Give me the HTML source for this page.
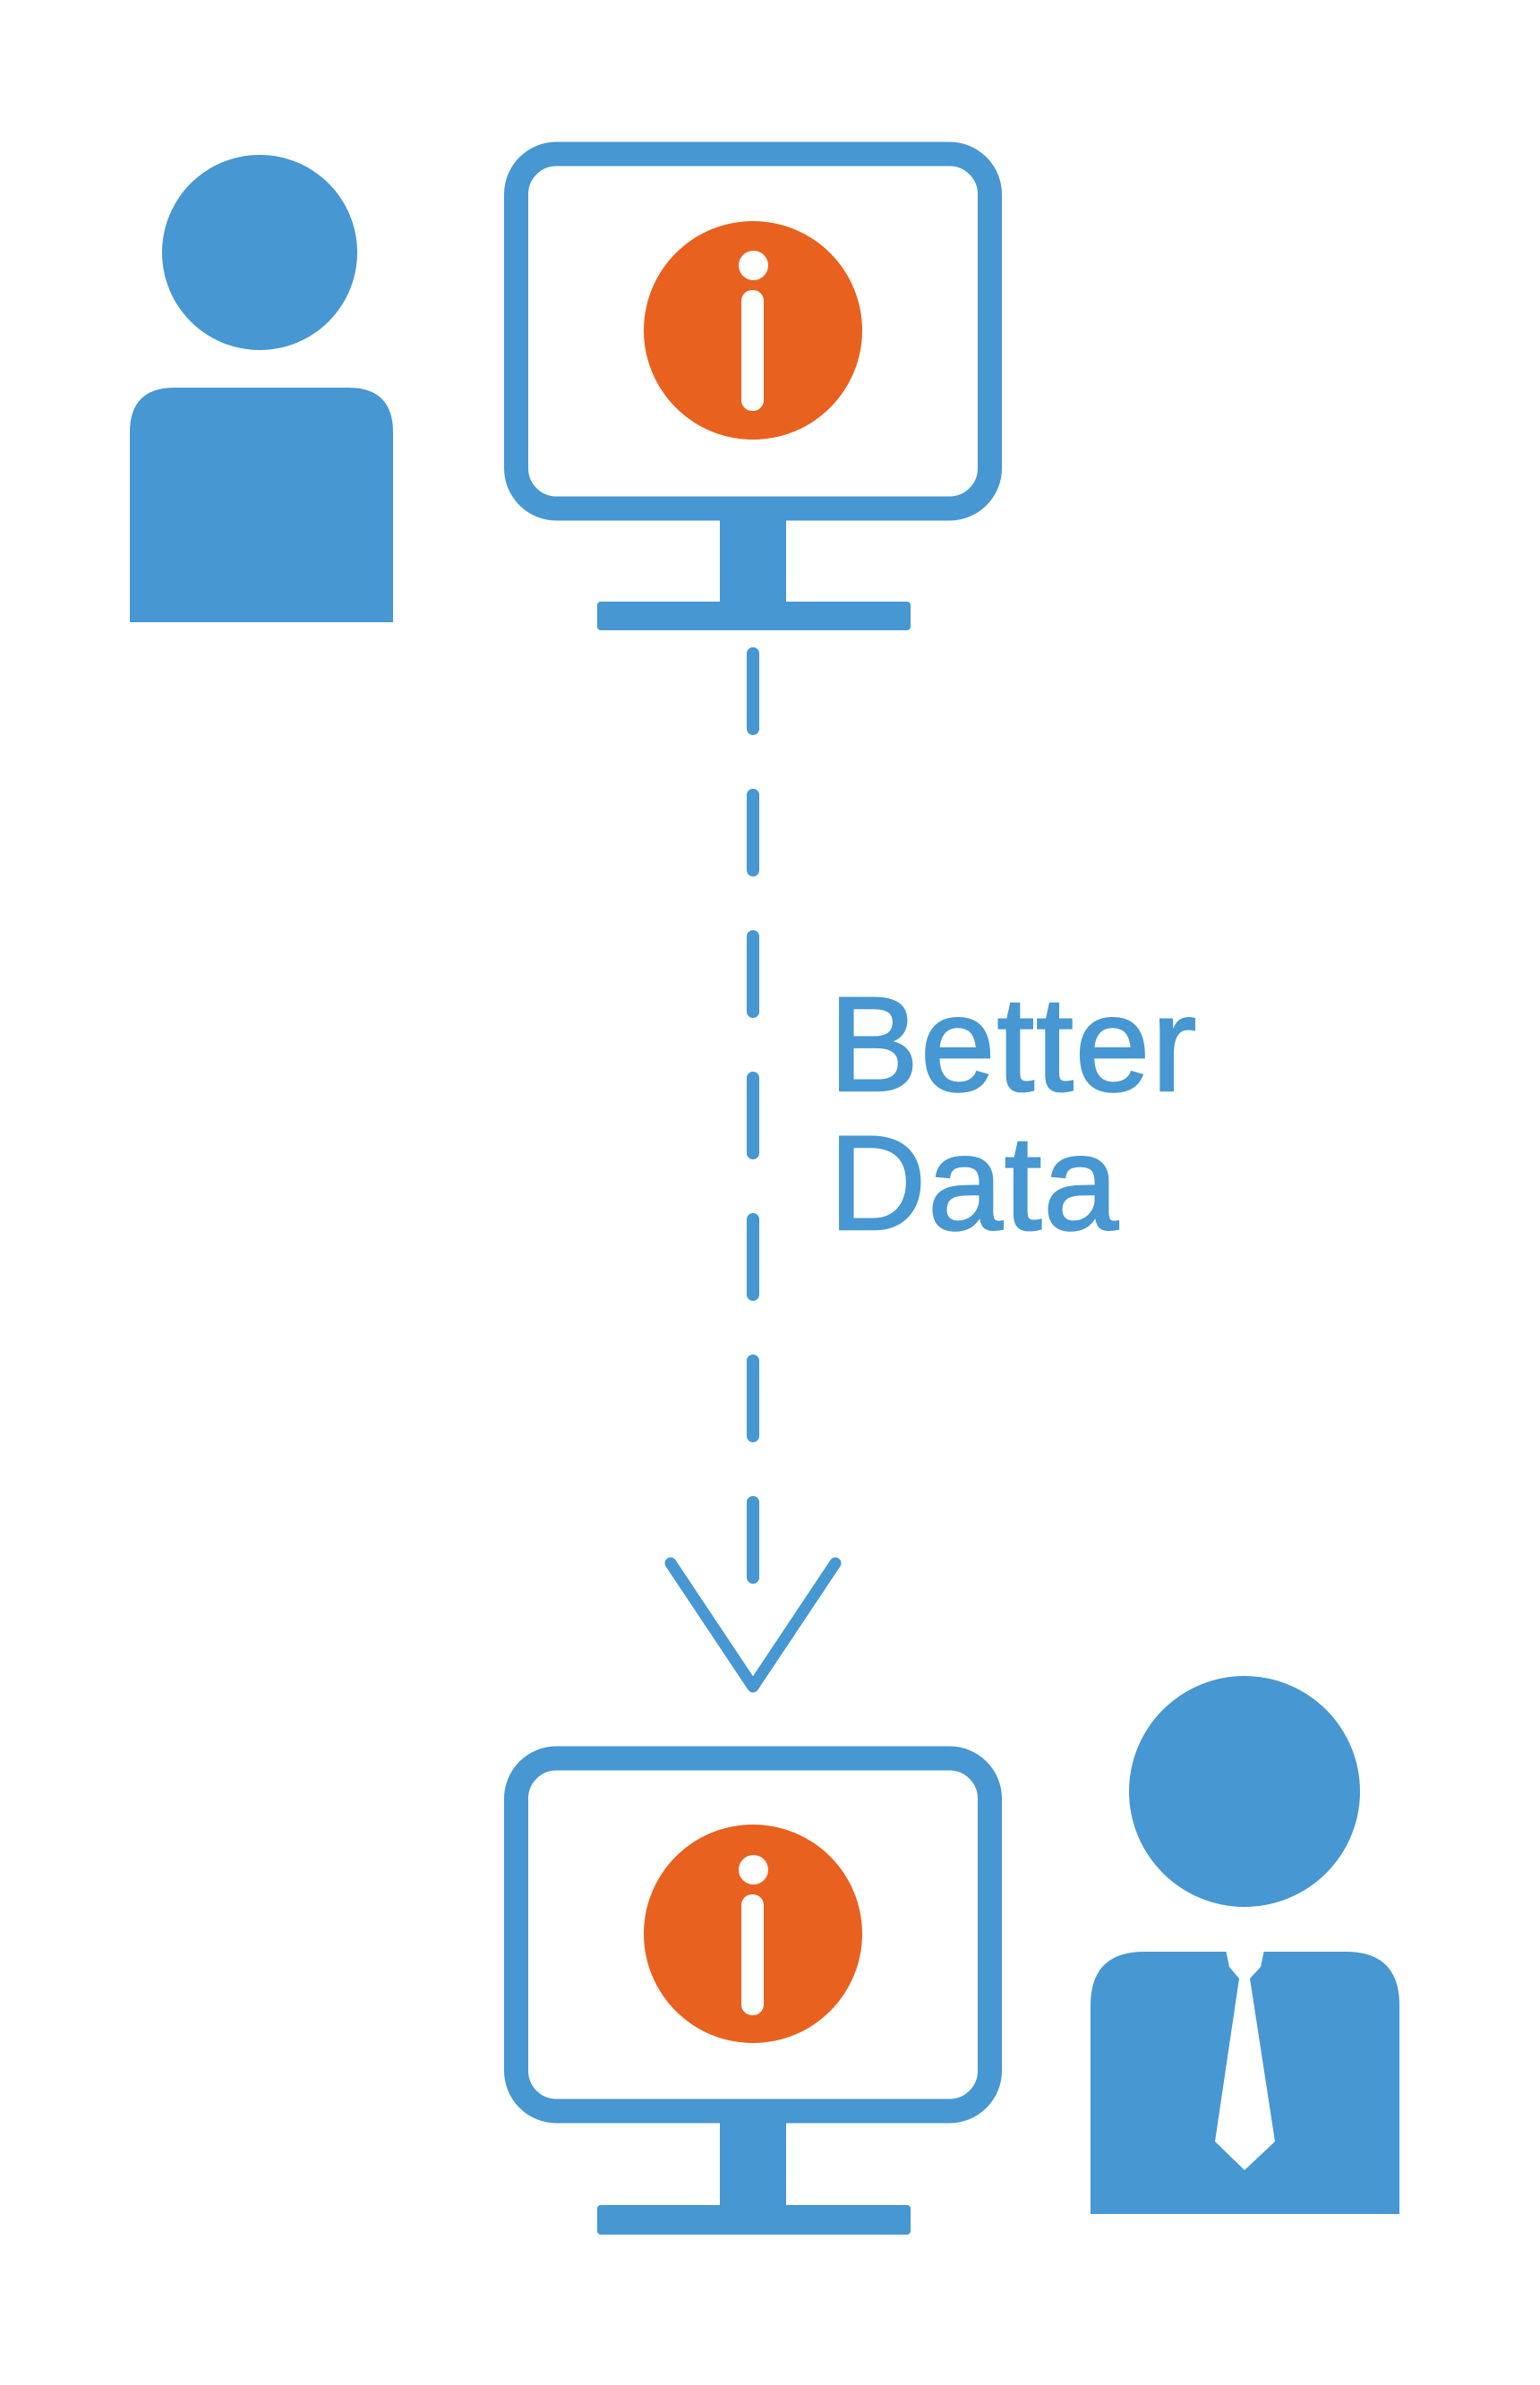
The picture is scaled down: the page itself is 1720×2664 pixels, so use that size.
<!DOCTYPE html>
<html><head><meta charset="utf-8"><style>
html,body{margin:0;padding:0;background:#fff;}
svg{display:block;}
</style></head><body>
<svg width="1720" height="2664" viewBox="0 0 1720 2664" xmlns="http://www.w3.org/2000/svg">
<rect width="1720" height="2664" fill="#fff"/>
<!-- person 1 -->
<circle cx="290" cy="282" r="109" fill="#4697d2"/>
<path d="M145 695 V483 Q145 433 195 433 H389 Q439 433 439 483 V695 Z" fill="#4697d2"/>
<!-- monitor 1 -->
<rect x="576.5" y="172" width="529" height="396" rx="45" fill="none" stroke="#4697d2" stroke-width="27"/>
<circle cx="841" cy="369" r="122" fill="#e8611e"/>
<rect x="825" y="280" width="33" height="33" rx="16.5" fill="#fff"/>
<rect x="828" y="324" width="25" height="135" rx="12" fill="#fff"/>
<rect x="804" y="580" width="74" height="95" fill="#4697d2"/>
<rect x="667" y="672" width="350" height="32" rx="4" fill="#4697d2"/>
<!-- dashed connector -->
<line x1="841" y1="730" x2="841" y2="1782" stroke="#4697d2" stroke-width="14" stroke-linecap="round" stroke-dasharray="84 74"/>
<polyline points="749,1746 841,1884 933,1746" fill="none" stroke="#4697d2" stroke-width="13" stroke-linecap="round" stroke-linejoin="round"/>
<text x="926" y="1218" font-family="Liberation Sans, sans-serif" font-size="150" letter-spacing="2" fill="#4697d2" stroke="#4697d2" stroke-width="2.5">Better</text>
<text x="926" y="1373" font-family="Liberation Sans, sans-serif" font-size="150" letter-spacing="2" fill="#4697d2" stroke="#4697d2" stroke-width="2.5">Data</text>
<!-- monitor 2 -->
<rect x="576.5" y="1964" width="529" height="394" rx="45" fill="none" stroke="#4697d2" stroke-width="27"/>
<circle cx="841" cy="2160" r="122" fill="#e8611e"/>
<rect x="825" y="2072" width="33" height="33" rx="16.5" fill="#fff"/>
<rect x="828" y="2116" width="25" height="135" rx="12" fill="#fff"/>
<rect x="804" y="2370" width="74" height="97" fill="#4697d2"/>
<rect x="667" y="2463" width="350" height="33" rx="4" fill="#4697d2"/>
<!-- person 2 -->
<circle cx="1390" cy="2001" r="129" fill="#4697d2"/>
<path d="M1218 2473 V2240 Q1218 2180 1278 2180 H1503 Q1563 2180 1563 2240 V2473 Z" fill="#4697d2"/>
<path d="M1369 2178 L1373 2197 L1384 2210 L1357 2392 L1390 2424 L1424 2392 L1396 2210 L1408 2197 L1412 2178 Z" fill="#fff"/>
</svg>
</body></html>
